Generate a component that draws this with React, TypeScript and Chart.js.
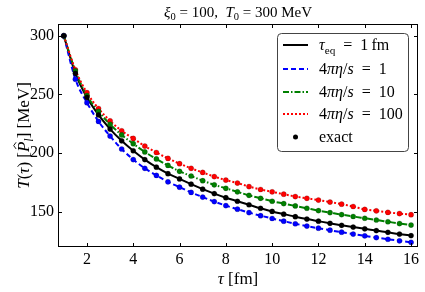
import React, { useEffect, useRef } from "react";
import { Chart, registerables } from "chart.js";

Chart.register(...registerables);

const tau = [1, 1.5, 2, 2.5, 3, 3.5, 4, 4.5, 5, 5.5, 6, 6.5, 7, 7.5, 8, 8.5, 9, 9.5, 10, 10.5, 11, 11.5, 12, 12.5, 13, 13.5, 14, 14.5, 15, 15.5, 16];

const tEq1 = [300, 268, 247.5, 232.5, 220.5, 210.5, 202, 194.5, 188, 182.5, 178, 173.5, 169.3, 165.5, 162, 159, 156, 153, 150.3, 148, 145.8, 143.8, 142, 140.2, 138.5, 137, 135.5, 134, 132.5, 131, 129.7];
const eta1 = [300, 263, 243, 227, 214.5, 203.5, 194.5, 187, 181, 175.5, 171, 166.5, 162.5, 158.7, 155.3, 152.2, 149.3, 146.7, 144.3, 142, 139.8, 137.8, 136, 134.3, 132.6, 131, 129.5, 128, 126.6, 125.3, 124];
const eta10 = [300, 270, 249, 235.5, 224.5, 215.5, 208, 201, 195, 189.5, 184.5, 180.5, 176.5, 173, 170, 167, 164, 161.5, 159, 157, 155, 153, 151, 149.3, 147.6, 146, 144.5, 143, 141.5, 140, 138.7];
const eta100 = [300, 271, 251.5, 238, 227.5, 219, 212.5, 206, 200.5, 195.5, 191, 187, 183.5, 180, 177, 174.5, 171.5, 169, 167, 165, 163, 161.5, 160, 158.3, 156.5, 154.5, 152, 150.8, 149.5, 148.5, 147.5];

const xTicks = [2, 4, 6, 8, 10, 12, 14, 16];
const yTicks = [150, 200, 250, 300];

const BLACK = "#000000";
const BLUE = "#0000ff";
const GREEN = "#008000";
const RED = "#ff0000";

const FONT = '"Liberation Serif", "DejaVu Serif", serif';
const EQ = "\u2002=\u2002";

type Seg = { t: string; it?: boolean; sub?: boolean; hat?: boolean };

function segFont(s: Seg, size: number) {
  const sz = s.sub ? size * 0.7 : size;
  return `${s.it ? "italic " : ""}${sz}px ${FONT}`;
}

function measureRich(ctx: CanvasRenderingContext2D, segs: Seg[], size: number) {
  let w = 0;
  for (const s of segs) {
    ctx.font = segFont(s, size);
    w += ctx.measureText(s.t).width;
  }
  return w;
}

function drawRich(ctx: CanvasRenderingContext2D, segs: Seg[], x: number, y: number, size: number, align: "left" | "center") {
  const w = measureRich(ctx, segs, size);
  let cx = align === "center" ? x - w / 2 : x;
  ctx.textAlign = "left";
  ctx.textBaseline = "alphabetic";
  ctx.fillStyle = "#000";
  for (const s of segs) {
    ctx.font = segFont(s, size);
    const ww = ctx.measureText(s.t).width;
    ctx.fillText(s.t, cx, y + (s.sub ? size * 0.22 : 0));
    if (s.hat) {
      ctx.save();
      ctx.strokeStyle = "#000";
      ctx.lineWidth = 0.9;
      ctx.beginPath();
      ctx.moveTo(cx + ww * 0.3, y - size * 0.76);
      ctx.lineTo(cx + ww * 0.62, y - size * 0.9);
      ctx.lineTo(cx + ww * 0.94, y - size * 0.76);
      ctx.stroke();
      ctx.restore();
    }
    cx += ww;
  }
}

const titleSegs: Seg[] = [
  { t: "ξ", it: true }, { t: "0", sub: true }, { t: " = 100,  " },
  { t: "T", it: true }, { t: "0", sub: true }, { t: " = 300 MeV" },
];
const yTitleSegs: Seg[] = [
  { t: "T", it: true }, { t: "(" }, { t: "τ", it: true }, { t: ") [" },
  { t: "P", it: true, hat: true }, { t: "l", it: true, sub: true }, { t: "] [MeV]" },
];
const xTitleSegs: Seg[] = [{ t: "τ", it: true }, { t: " [fm]" }];

const legendRows: { segs: Seg[]; color: string; dash: number[] | null }[] = [
  { segs: [{ t: "τ", it: true }, { t: "eq", sub: true }, { t: EQ + "1\u2009fm" }], color: BLACK, dash: [] },
  { segs: [{ t: "4" }, { t: "π", it: true }, { t: "η", it: true }, { t: "/" }, { t: "s", it: true }, { t: EQ + "1" }], color: BLUE, dash: [5, 3] },
  { segs: [{ t: "4" }, { t: "π", it: true }, { t: "η", it: true }, { t: "/" }, { t: "s", it: true }, { t: EQ + "10" }], color: GREEN, dash: [6, 2, 1.5, 2] },
  { segs: [{ t: "4" }, { t: "π", it: true }, { t: "η", it: true }, { t: "/" }, { t: "s", it: true }, { t: EQ + "100" }], color: RED, dash: [2, 2] },
  { segs: [{ t: "exact" }], color: BLACK, dash: null },
];

const decorPlugin = {
  id: "decor",
  afterDraw(chart: any) {
    const ctx: CanvasRenderingContext2D = chart.ctx;
    const { left, right, top, bottom } = chart.chartArea;
    const xs = chart.scales.x;
    const ys = chart.scales.y;
    ctx.save();
    ctx.strokeStyle = "#000";
    ctx.lineWidth = 1;
    ctx.setLineDash([]);
    ctx.strokeRect(Math.round(left) + 0.5, Math.round(top) + 0.5, Math.round(right - left) - 1, Math.round(bottom - top) - 1);
    const tl = 4;
    ctx.beginPath();
    for (const v of xTicks) {
      const px = Math.round(xs.getPixelForValue(v)) + 0.5;
      ctx.moveTo(px, bottom);
      ctx.lineTo(px, bottom - tl);
      ctx.moveTo(px, top);
      ctx.lineTo(px, top + tl);
    }
    for (const v of yTicks) {
      const py = Math.round(ys.getPixelForValue(v)) + 0.5;
      ctx.moveTo(left, py);
      ctx.lineTo(left + tl, py);
      ctx.moveTo(right, py);
      ctx.lineTo(right - tl, py);
    }
    ctx.stroke();

    drawRich(ctx, titleSegs, (left + right) / 2, 17, 15, "center");
    drawRich(ctx, xTitleSegs, (left + right) / 2, 284, 17, "center");
    ctx.save();
    ctx.translate(23, (top + bottom) / 2);
    ctx.rotate(-Math.PI / 2);
    drawRich(ctx, yTitleSegs, 0, 6, 17, "center");
    ctx.restore();

    const bx = 277.5, by = 33.5, bw = 131, bh = 118, r = 4;
    ctx.beginPath();
    ctx.moveTo(bx + r, by);
    ctx.lineTo(bx + bw - r, by);
    ctx.arcTo(bx + bw, by, bx + bw, by + r, r);
    ctx.lineTo(bx + bw, by + bh - r);
    ctx.arcTo(bx + bw, by + bh, bx + bw - r, by + bh, r);
    ctx.lineTo(bx + r, by + bh);
    ctx.arcTo(bx, by + bh, bx, by + bh - r, r);
    ctx.lineTo(bx, by + r);
    ctx.arcTo(bx, by, bx + r, by, r);
    ctx.closePath();
    ctx.fillStyle = "rgba(255,255,255,0.9)";
    ctx.fill();
    ctx.strokeStyle = "#444";
    ctx.lineWidth = 1;
    ctx.stroke();

    const rowY = [45, 69, 92, 114, 137];
    legendRows.forEach((row, i) => {
      const cy = rowY[i];
      if (row.dash) {
        ctx.save();
        ctx.strokeStyle = row.color;
        ctx.lineWidth = 2;
        ctx.setLineDash(row.dash);
        ctx.beginPath();
        ctx.moveTo(283, cy);
        ctx.lineTo(308, cy);
        ctx.stroke();
        ctx.restore();
      } else {
        ctx.beginPath();
        ctx.fillStyle = row.color;
        ctx.arc(295.5, cy, 2.5, 0, Math.PI * 2);
        ctx.fill();
      }
      drawRich(ctx, row.segs, 319, cy + 5, 16, "left");
    });
    ctx.restore();
  },
};

function toXY(vals: number[]) {
  return tau.map((t, i) => ({ x: t, y: vals[i] }));
}

export default function App() {
  const ref = useRef<HTMLCanvasElement | null>(null);
  useEffect(() => {
    if (!ref.current) return;
    const series = [
      { label: "τeq = 1 fm", vals: tEq1, color: BLACK, dash: [] as number[] },
      { label: "4πη/s = 1", vals: eta1, color: BLUE, dash: [5, 3] },
      { label: "4πη/s = 10", vals: eta10, color: GREEN, dash: [6, 2, 1.5, 2] },
      { label: "4πη/s = 100", vals: eta100, color: RED, dash: [2, 2] },
    ];
    const lineSets = series.map((s, i) => ({
      type: "line" as const,
      label: s.label,
      data: toXY(s.vals),
      borderColor: s.color,
      backgroundColor: s.color,
      borderWidth: 2,
      borderDash: s.dash,
      pointRadius: 0,
      cubicInterpolationMode: "monotone" as const,
      fill: false,
      order: 10 - i,
    }));
    const dotSets = series.map((s) => ({
      type: "scatter" as const,
      label: "exact",
      data: toXY(s.vals),
      borderColor: "rgba(0,0,0,0.35)",
      backgroundColor: s.color,
      pointRadius: 2.6,
      borderWidth: 0.5,
      showLine: false,
      order: 0,
    }));
    const chart = new Chart(ref.current, {
      type: "line",
      data: { datasets: [...dotSets, ...lineSets] as any },
      plugins: [decorPlugin],
      options: {
        animation: false,
        responsive: false,
        maintainAspectRatio: false,
        layout: { padding: { left: 0, top: 24, right: 7, bottom: 0 } },
        plugins: { legend: { display: false }, title: { display: false }, tooltip: { enabled: false } },
        scales: {
          x: {
            type: "linear",
            min: 0.75,
            max: 16.3,
            grid: { display: false, drawTicks: false },
            border: { display: false },
            afterBuildTicks: (s: any) => { s.ticks = xTicks.map((v) => ({ value: v })); },
            afterFit: (s: any) => { s.height = 45; },
            ticks: { color: "#000", padding: 3, maxRotation: 0, autoSkip: false, font: { family: FONT, size: 16 } },
          },
          y: {
            type: "linear",
            min: 120,
            max: 310,
            grid: { display: false, drawTicks: false },
            border: { display: false },
            afterBuildTicks: (s: any) => { s.ticks = yTicks.map((v) => ({ value: v })); },
            afterFit: (s: any) => { s.width = 58; },
            ticks: { color: "#000", padding: 4, autoSkip: false, font: { family: FONT, size: 16 } },
          },
        },
      },
    });
    return () => chart.destroy();
  }, []);
  return (
    <div style={{ position: "absolute", left: 0, top: 0, width: 425, height: 292, background: "#fff" }}>
      <canvas ref={ref} width={425} height={292} style={{ display: "block", width: 425, height: 292 }} />
    </div>
  );
}
